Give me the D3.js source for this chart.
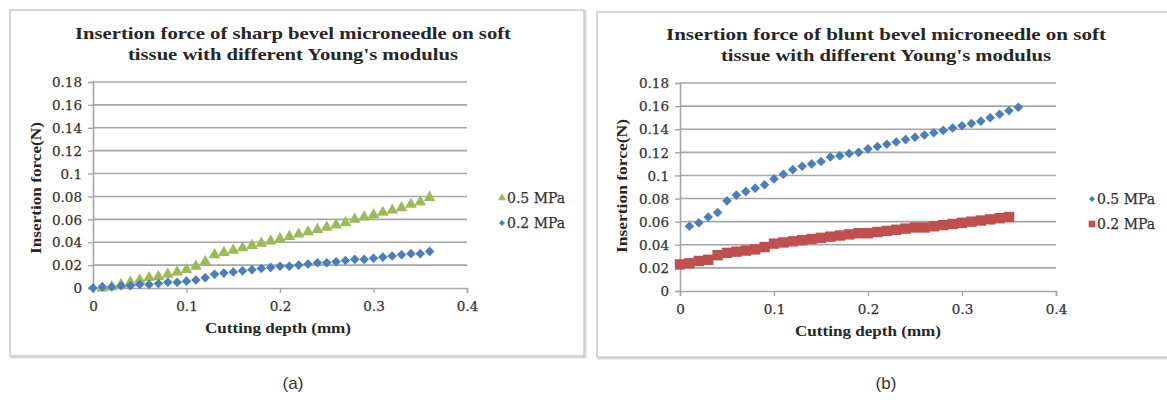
<!DOCTYPE html>
<html>
<head>
<meta charset="utf-8">
<script src="https://cdn.jsdelivr.net/npm/d3@7"></script>
<style>
  html, body { margin: 0; padding: 0; background: #ffffff; }
  svg { display: block; }
</style>
</head>
<body>
<svg id="fig" width="1167" height="404"></svg>
<script>
// Cutting depth steps (mm)
const depthA = [0,0.01,0.02,0.03,0.04,0.05,0.06,0.07,0.08,0.09,0.10,0.11,0.12,0.13,0.14,0.15,0.16,0.17,0.18,0.19,0.20,0.21,0.22,0.23,0.24,0.25,0.26,0.27,0.28,0.29,0.30,0.31,0.32,0.33,0.34,0.35,0.36];

// (a) sharp bevel, 0.5 MPa tissue (starts at 0.01 mm)
const sharp05Depth = depthA.slice(1);
const sharp05Force = [0.000,0.001,0.003,0.005,0.007,0.009,0.010,0.012,0.014,0.016,0.019,0.023,0.029,0.031,0.033,0.035,0.037,0.039,0.041,0.043,0.045,0.047,0.049,0.051,0.053,0.055,0.057,0.060,0.062,0.064,0.066,0.068,0.070,0.073,0.075,0.079];
// (a) sharp bevel, 0.2 MPa tissue
const sharp02Depth = depthA;
const sharp02Force = [0.000,0.001,0.001,0.002,0.002,0.003,0.003,0.004,0.005,0.005,0.006,0.007,0.009,0.012,0.013,0.014,0.015,0.016,0.017,0.018,0.019,0.019,0.020,0.021,0.022,0.022,0.023,0.024,0.025,0.025,0.026,0.027,0.028,0.029,0.030,0.030,0.032];

// (b) blunt bevel, 0.5 MPa tissue (0.01 .. 0.36 mm)
const blunt05Depth = depthA.slice(1);
const blunt05Force = [0.056,0.059,0.064,0.068,0.078,0.083,0.086,0.089,0.092,0.097,0.101,0.105,0.108,0.110,0.112,0.116,0.117,0.119,0.120,0.123,0.125,0.127,0.129,0.131,0.133,0.135,0.137,0.139,0.141,0.143,0.145,0.147,0.150,0.153,0.156,0.159];
// (b) blunt bevel, 0.2 MPa tissue (0 .. 0.35 mm)
const blunt02Depth = depthA.slice(0, 36);
const blunt02Force = [0.023,0.024,0.026,0.027,0.031,0.033,0.034,0.035,0.036,0.038,0.041,0.042,0.043,0.044,0.045,0.046,0.047,0.048,0.049,0.050,0.050,0.051,0.052,0.053,0.054,0.055,0.055,0.056,0.057,0.058,0.059,0.060,0.061,0.062,0.063,0.064];

const xTicks = [0, 0.1, 0.2, 0.3, 0.4];
const yTicks = [0, 0.02, 0.04, 0.06, 0.08, 0.1, 0.12, 0.14, 0.16, 0.18];

const titleA = ["Insertion force of sharp bevel microneedle on soft", "tissue with different Young's modulus"];
const titleB = ["Insertion force of blunt  bevel microneedle on soft", "tissue with different Young's modulus"];
const xLabel = "Cutting depth (mm)";
const yLabel = "Insertion force(N)";

const BLUE = "#4a7ebb", GREEN = "#9bbb59", RED = "#c0504d";
const SERIF = "'Liberation Serif', 'DejaVu Serif', serif";
const TICKFONT = "'DejaVu Serif', 'Liberation Serif', serif";

const svg = d3.select("#fig");

// marker shapes; the diamond is a square turned 45 degrees
const sym = {
  triangle: { d: d3.symbol().type(d3.symbolTriangle).size(60)(), rot: 0 },
  diamond: { d: d3.symbol().type(d3.symbolSquare).size(46)(), rot: 45 },
  square: { d: d3.symbol().type(d3.symbolSquare).size(108)(), rot: 0 },
  legTri: { d: d3.symbol().type(d3.symbolTriangle).size(28)(), rot: 0 },
  legDia: { d: d3.symbol().type(d3.symbolSquare).size(18)(), rot: 45 },
  legSq: { d: d3.symbol().type(d3.symbolSquare).size(44)(), rot: 0 }
};

function drawPanel(cfg) {
  const g = svg.append("g");

  // chart frame with soft shadow
  g.append("rect")
    .attr("x", cfg.frame[0] + 1.5).attr("y", cfg.frame[1] + 1.5)
    .attr("width", cfg.frame[2]).attr("height", cfg.frame[3])
    .attr("fill", "none").attr("stroke", "#d9d9d9").attr("stroke-width", 2);
  g.append("rect")
    .attr("x", cfg.frame[0]).attr("y", cfg.frame[1])
    .attr("width", cfg.frame[2]).attr("height", cfg.frame[3])
    .attr("fill", "#ffffff").attr("stroke", "#bdbdbd").attr("stroke-width", 1.2);

  const x = d3.scaleLinear().domain([0, 0.4]).range([cfg.plot.left, cfg.plot.right]);
  const y = d3.scaleLinear().domain([0, 0.18]).range([cfg.plot.bottom, cfg.plot.top]);

  // horizontal gridlines
  g.append("g").selectAll("line").data(yTicks.slice(1)).join("line")
    .attr("x1", x(0)).attr("x2", x(0.4))
    .attr("y1", d => y(d)).attr("y2", d => y(d))
    .attr("stroke", "#a6a6a6").attr("stroke-width", 1.6);

  // y axis
  const yAxis = g.append("g").attr("transform", `translate(${x(0)},0)`)
    .call(d3.axisLeft(y).tickValues(yTicks).tickFormat(d => String(+d.toFixed(2))).tickSizeOuter(0).tickSize(5).tickPadding(6));
  yAxis.select(".domain").attr("stroke", "#a6a6a6").attr("stroke-width", 1.6);
  yAxis.selectAll(".tick line").attr("stroke", "#a6a6a6").attr("stroke-width", 1.4);
  yAxis.selectAll(".tick text").attr("fill", "#333333").attr("font-size", 13.5)
    .attr("font-family", TICKFONT).attr("stroke", "#333333").attr("stroke-width", 0.25).attr("dy", "0.35em");

  // x axis
  const xAxis = g.append("g").attr("transform", `translate(0,${y(0)})`)
    .call(d3.axisBottom(x).tickValues(xTicks).tickFormat(d => String(+d.toFixed(1))).tickSizeOuter(0).tickSize(5).tickPadding(8));
  xAxis.select(".domain").attr("stroke", "#a6a6a6").attr("stroke-width", 1.6);
  xAxis.selectAll(".tick line").attr("stroke", "#a6a6a6").attr("stroke-width", 1.4);
  xAxis.selectAll(".tick text").attr("fill", "#333333").attr("font-size", 13.5)
    .attr("font-family", TICKFONT).attr("stroke", "#333333").attr("stroke-width", 0.25);

  // two-line title
  cfg.title.forEach((line, i) => {
    g.append("text").attr("x", cfg.titleX).attr("y", cfg.titleY + i * 20.5)
      .attr("text-anchor", "middle").attr("font-family", SERIF).attr("font-weight", "bold")
      .attr("font-size", 17.5).attr("fill", "#262626")
      .attr("textLength", cfg.titleWidths[i]).attr("lengthAdjust", "spacingAndGlyphs")
      .text(line);
  });

  // axis titles
  g.append("text").attr("x", cfg.xLabelPos[0]).attr("y", cfg.xLabelPos[1])
    .attr("text-anchor", "middle").attr("font-family", SERIF).attr("font-weight", "bold")
    .attr("font-size", 15).attr("fill", "#262626")
    .attr("textLength", 146).attr("lengthAdjust", "spacingAndGlyphs").text(xLabel);
  g.append("text")
    .attr("transform", `translate(${cfg.yLabelPos[0]},${cfg.yLabelPos[1]}) rotate(-90)`)
    .attr("text-anchor", "middle").attr("font-family", SERIF).attr("font-weight", "bold")
    .attr("font-size", 15).attr("fill", "#262626")
    .attr("textLength", cfg.yLabelLen).attr("lengthAdjust", "spacingAndGlyphs").text(yLabel);

  // series markers, drawn in order
  cfg.series.forEach(s => {
    g.append("g").selectAll("path").data(s.depth.map((d, i) => [d, s.force[i]])).join("path")
      .attr("d", s.symbol.d)
      .attr("transform", d => `translate(${x(d[0])},${y(d[1])}) rotate(${s.symbol.rot})`)
      .attr("fill", s.color);
  });

  // legend
  cfg.legend.forEach((l, i) => {
    const ly = cfg.legendPos[1] + i * 25;
    g.append("path").attr("d", l.symbol.d)
      .attr("transform", `translate(${cfg.legendPos[0]},${ly}) rotate(${l.symbol.rot})`).attr("fill", l.color);
    g.append("text").attr("x", cfg.legendPos[0] + 5).attr("y", ly).attr("dy", "0.35em")
      .attr("font-family", TICKFONT).attr("font-size", 14)
      .attr("fill", "#333333").attr("stroke", "#333333").attr("stroke-width", 0.25).text(l.label);
  });

  // caption
  svg.append("text").attr("x", cfg.caption[0]).attr("y", cfg.caption[1])
    .attr("text-anchor", "middle").attr("font-family", "'Liberation Sans', Arial, sans-serif")
    .attr("font-size", 17).attr("fill", "#333333").text(cfg.caption[2]);
}

drawPanel({
  frame: [10, 10, 574, 346],
  plot: { left: 93, right: 467, top: 82, bottom: 288 },
  title: titleA, titleX: 293, titleY: 39, titleWidths: [436, 330],
  xLabelPos: [278, 333], yLabelPos: [41, 188], yLabelLen: 132,
  series: [
    { depth: sharp05Depth, force: sharp05Force, symbol: sym.triangle, color: GREEN },
    { depth: sharp02Depth, force: sharp02Force, symbol: sym.diamond, color: BLUE }
  ],
  legend: [
    { label: "0.5 MPa", symbol: sym.legTri, color: GREEN },
    { label: "0.2 MPa", symbol: sym.legDia, color: BLUE }
  ],
  legendPos: [502, 198],
  caption: [293, 389, "(a)"]
});

drawPanel({
  frame: [597, 12, 580, 345],
  plot: { left: 680, right: 1056, top: 83, bottom: 291 },
  title: titleB, titleX: 886, titleY: 40, titleWidths: [440, 330],
  xLabelPos: [868, 336], yLabelPos: [627, 186], yLabelLen: 134,
  series: [
    { depth: blunt05Depth, force: blunt05Force, symbol: sym.diamond, color: BLUE },
    { depth: blunt02Depth, force: blunt02Force, symbol: sym.square, color: RED }
  ],
  legend: [
    { label: "0.5 MPa", symbol: sym.legDia, color: BLUE },
    { label: "0.2 MPa", symbol: sym.legSq, color: RED }
  ],
  legendPos: [1092, 199],
  caption: [886, 389, "(b)"]
});
</script>
</body>
</html>
